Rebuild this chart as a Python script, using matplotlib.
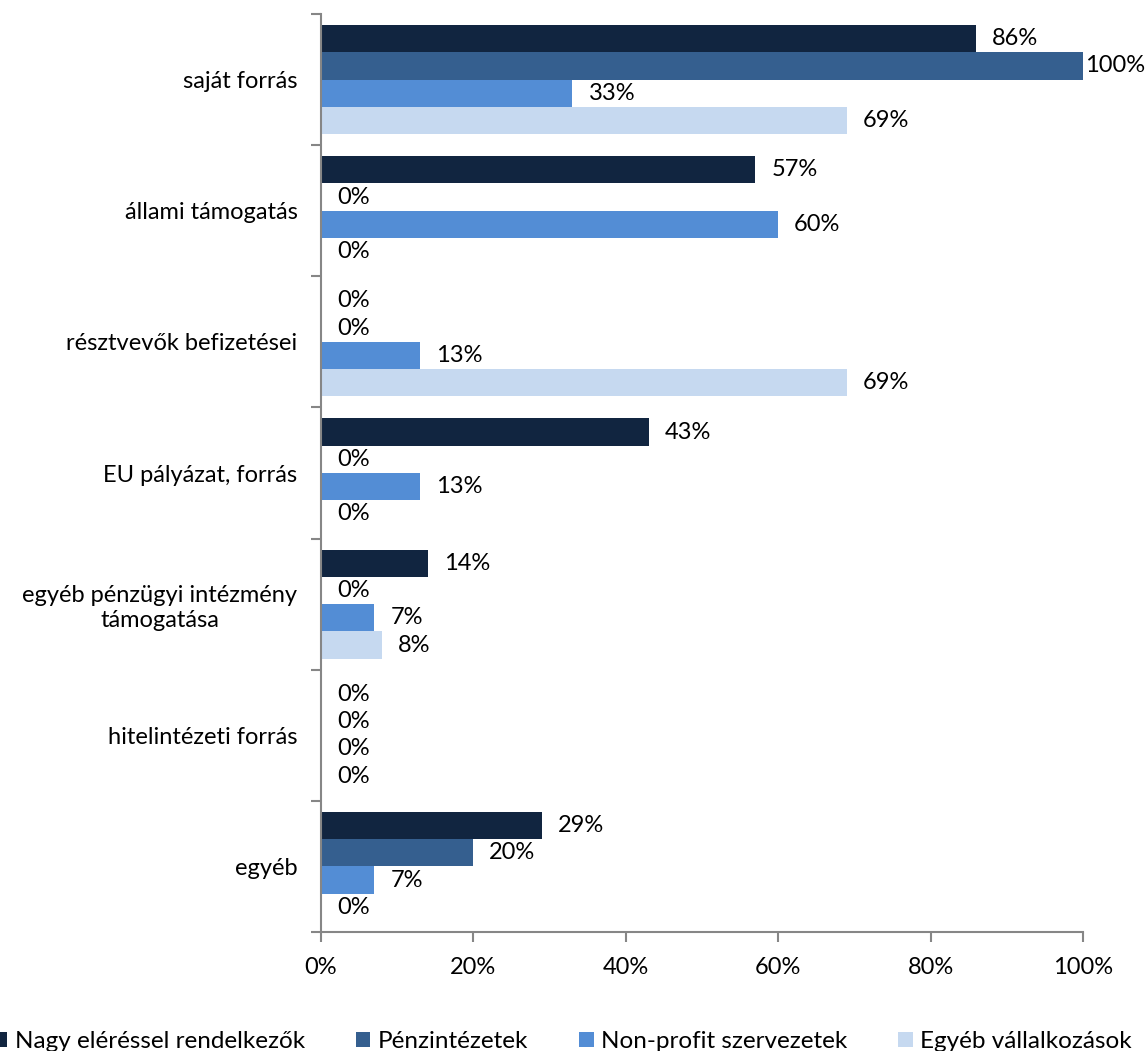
import matplotlib.pyplot as plt
import numpy as np

# ----- Data ----- #
categories = ["saját forrás", "állami támogatás", "résztvevők befizetései",
              "EU pályázat, forrás", "egyéb pénzügyi intézmény\ntámogatása",
              "hitelintézeti forrás", "egyéb"]
series_names = ["Nagy eléréssel rendelkezők", "Pénzintézetek",
                "Non-profit szervezetek", "Egyéb vállalkozások"]
nagy = [86, 57, 0, 43, 14, 0, 29]
penz = [100, 0, 0, 0, 0, 0, 20]
nonprofit = [33, 60, 13, 13, 7, 0, 7]
egyeb = [69, 0, 69, 0, 8, 0, 0]
x_ticks = [0, 20, 40, 60, 80, 100]

colors = ["#112540", "#355F8F", "#538DD5", "#C6D9F0"]

plt.rcParams['font.family'] = ['Lato', 'DejaVu Sans']
plt.rcParams['font.size'] = 17

fig = plt.figure(figsize=(11.45, 10.51), dpi=100)
ax = fig.add_axes([321 / 1145, 1 - 932 / 1051, 762 / 1145, 918 / 1051])

y = np.arange(len(categories))
h = 0.208
all_series = [nagy, penz, nonprofit, egyeb]
for i, vals in enumerate(all_series):
    pos = y - 1.5 * h + i * h
    ax.barh(pos, vals, height=h, color=colors[i], label=series_names[i])
    for p, v in zip(pos, vals):
        # label at full length sits right on the bar end (no room to the right)
        off = 1.5 if v >= 100 else 11.5
        ax.annotate("%d%%" % v, xy=(v, p), xytext=(off, 0), textcoords="offset points",
                    va="center", ha="left", fontsize=17, color="black",
                    bbox=dict(facecolor="white", edgecolor="none", pad=1.0))

ax.set_xlim(0, 100)
ax.set_ylim(len(categories) - 0.5, -0.5)
ax.set_xticks(x_ticks)
ax.set_xticklabels(["%d%%" % t for t in x_ticks])
ax.set_yticks(y)
ax.set_yticklabels(categories, multialignment="center")
ax.set_yticks(np.arange(len(categories) + 1) - 0.5, minor=True)
ax.tick_params(axis="y", which="major", length=0, pad=17)
ax.tick_params(axis="y", which="minor", length=7, color="#868686", width=1.5)
ax.tick_params(axis="x", length=7, color="#868686", width=1.5, pad=11)

for s in ["top", "right"]:
    ax.spines[s].set_visible(False)
for s in ["left", "bottom"]:
    ax.spines[s].set_color("#868686")
    ax.spines[s].set_linewidth(1.5)

fig.legend(loc="lower center", ncol=4, bbox_to_anchor=(0.491, -0.022), frameon=False,
           fontsize=17.5, handlelength=0.6, handleheight=0.6, handletextpad=0.3,
           columnspacing=2.1)

fig.savefig("out.png", dpi=100)
